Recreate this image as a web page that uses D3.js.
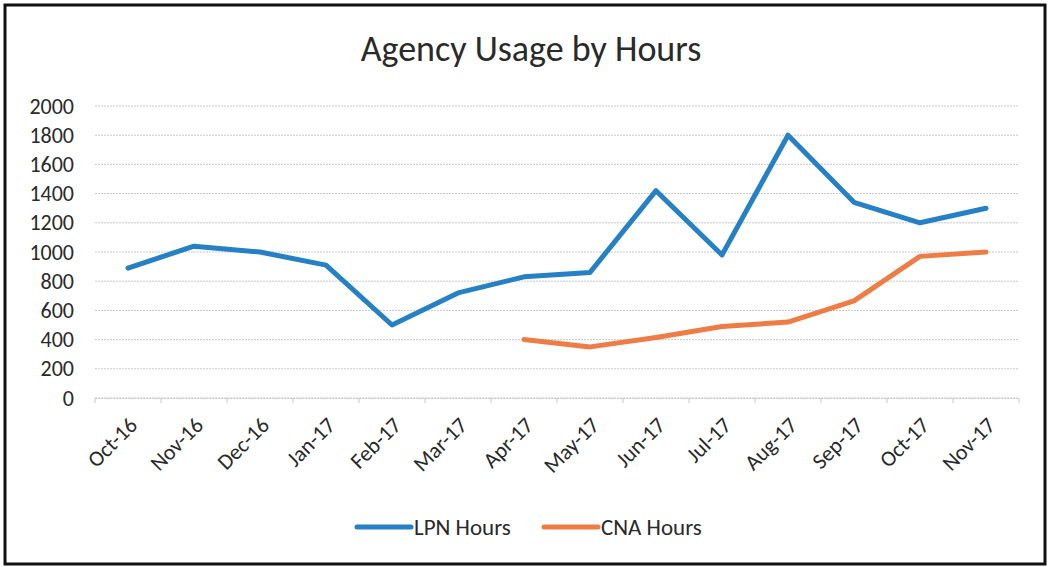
<!DOCTYPE html>
<html>
  <head>
    <meta charset="utf-8">
    <title>Agency Usage by Hours</title>
    <style>
      body { margin: 0; background: #fff; }
      text { font-family: Calibri, Carlito, Lato, "Open Sans", sans-serif; fill: #2a2a2a; }
    </style>
  </head>
  <body>
    <div id="chart"></div>
    <script src="https://cdn.jsdelivr.net/npm/d3@7/dist/d3.min.js"></script>
    <script>

        var months = ['Oct-16', 'Nov-16', 'Dec-16', 'Jan-17', 'Feb-17', 'Mar-17', 'Apr-17',
                      'May-17', 'Jun-17', 'Jul-17', 'Aug-17', 'Sep-17', 'Oct-17', 'Nov-17'];
        var lpnHours = [890, 1040, 1000, 910, 500, 720, 830, 860, 1420, 980, 1800, 1340, 1200, 1300];
        var cnaHours = [null, null, null, null, null, null, 400, 350, 415, 490, 520, 665, 970, 1000];
        var yTicks = [0, 200, 400, 600, 800, 1000, 1200, 1400, 1600, 1800, 2000];

        var width = 1050;
        var height = 567;
        var margin = {left: 95, right: 31, top: 106, bottom: 169};

        var svg = d3.select('#chart')
          .append('svg')
          .attr('width', width)
          .attr('height', height);

        // frame
        svg.append('rect')
          .attr('x', 5).attr('y', 5)
          .attr('width', width - 10).attr('height', height - 8)
          .attr('fill', 'none')
          .attr('stroke', '#111')
          .attr('stroke-width', 3);

        svg.append('text')
          .attr('x', 531)
          .attr('y', 61)
          .attr('text-anchor', 'middle')
          .style('font-size', '36px')
          .text('Agency Usage by Hours');

        var x = d3.scaleBand()
          .domain(months)
          .range([margin.left, width - margin.right]);

        var y = d3.scaleLinear()
          .domain([0, 2000])
          .range([height - margin.bottom, margin.top]);

        // gridlines
        svg.append('g')
          .selectAll('line')
          .data(yTicks)
          .enter()
          .append('line')
          .attr('x1', margin.left)
          .attr('x2', width - margin.right)
          .attr('y1', function(d) { return y(d); })
          .attr('y2', function(d) { return y(d); })
          .attr('stroke', '#c8c8cc')
          .attr('stroke-width', 1)
          .attr('stroke-dasharray', '2,1');

        // y axis labels
        var yAxis = svg.append('g')
          .attr('transform', 'translate(' + (margin.left - 21) + ',0)')
          .call(d3.axisLeft(y).tickValues(yTicks).tickFormat(d3.format('d')).tickSize(0).tickPadding(0));
        yAxis.select('.domain').remove();
        yAxis.selectAll('text')
          .style('font-size', '22px')
          .attr('fill', '#2a2a2a');

        // x axis
        var xAxis = svg.append('g')
          .attr('transform', 'translate(0,' + y(0) + ')')
          .call(d3.axisBottom(x).tickSizeOuter(0).tickSizeInner(0));
        xAxis.select('.domain').attr('stroke', '#c8c8cc').attr('stroke-dasharray', '2,1');
        xAxis.selectAll('.tick line').remove();
        xAxis.selectAll('.tick text')
          .style('font-size', '22px')
          .attr('fill', '#2a2a2a')
          .attr('text-anchor', 'end')
          .attr('dy', '0.35em')
          .attr('transform', 'translate(3,21) rotate(-45)');

        // small tick marks at band edges
        svg.append('g')
          .selectAll('line')
          .data(months.concat(['end']))
          .enter()
          .append('line')
          .attr('x1', function(d, i) { return margin.left + i * x.step(); })
          .attr('x2', function(d, i) { return margin.left + i * x.step(); })
          .attr('y1', y(0))
          .attr('y2', y(0) + 5)
          .attr('stroke', '#c8c8cc');

        var line = d3.line()
          .defined(function(d) { return d != null; })
          .x(function(d, i) { return x(months[i]) + x.bandwidth() / 2; })
          .y(function(d) { return y(d); });

        svg.append('path')
          .datum(cnaHours)
          .attr('d', line)
          .attr('fill', 'none')
          .attr('stroke', '#ee7d45')
          .attr('stroke-width', 5)
          .attr('stroke-linejoin', 'round')
          .attr('stroke-linecap', 'round');

        svg.append('path')
          .datum(lpnHours)
          .attr('d', line)
          .attr('fill', 'none')
          .attr('stroke', '#2680c6')
          .attr('stroke-width', 5)
          .attr('stroke-linejoin', 'round')
          .attr('stroke-linecap', 'round');

        // legend
        var legend = [
          {label: 'LPN Hours', color: '#2680c6', x: 357},
          {label: 'CNA Hours', color: '#ee7d45', x: 544}
        ];
        var lg = svg.append('g')
          .selectAll('g')
          .data(legend)
          .enter()
          .append('g')
          .attr('transform', function(d) { return 'translate(' + d.x + ',527)'; });
        lg.append('line')
          .attr('x1', 0).attr('x2', 54)
          .attr('stroke', function(d) { return d.color; })
          .attr('stroke-width', 5)
          .attr('stroke-linecap', 'round');
        lg.append('text')
          .attr('x', 57)
          .attr('dy', '0.35em')
          .style('font-size', '23px')
          .text(function(d) { return d.label; });

    </script>
  </body>
</html>
